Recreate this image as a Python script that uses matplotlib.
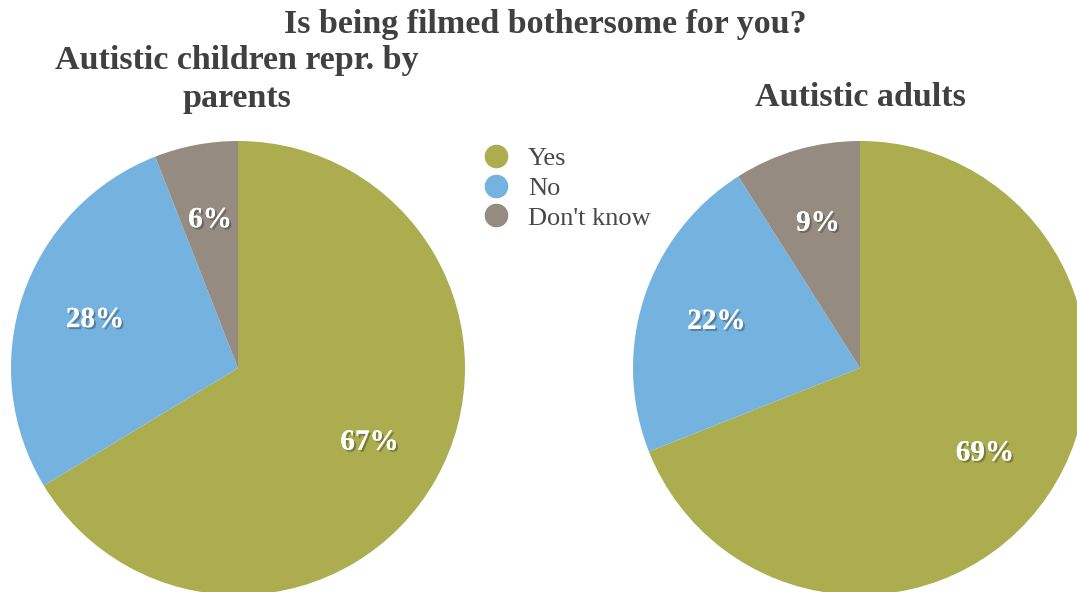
import matplotlib
matplotlib.use("Agg")
import matplotlib.pyplot as plt
import matplotlib.patheffects as pe
from matplotlib.lines import Line2D
import numpy as np

categories = ["Yes", "No", "Don't know"]
children_values = [67, 28, 6]
adults_values = [69, 22, 9]
colors = ["#ABAD4E", "#74B3E0", "#968B80"]

title = "Is being filmed bothersome for you?"
children_title = ["Autistic children repr. by", "parents"]
adults_title = "Autistic adults"

W, H = 1077, 592
fig = plt.figure(figsize=(W / 100, H / 100), dpi=100)
fig.patch.set_facecolor("white")

serif = ["Liberation Serif", "DejaVu Serif"]
text_color = "#404040"


def pie_axes(cx, cy, r):
    # cx, cy, r in pixels (y measured from the top)
    ax = fig.add_axes([(cx - r) / W, (H - cy - r) / H, 2 * r / W, 2 * r / H])
    return ax


def draw_pie(ax, values):
    wedges, _ = ax.pie(values, colors=colors, startangle=90, counterclock=False,
                       radius=1.0, wedgeprops=dict(linewidth=0))
    ax.set_xlim(-1, 1)
    ax.set_ylim(-1, 1)
    ax.axis("off")
    for w, v in zip(wedges, values):
        w.set_clip_on(False)
        ang = np.deg2rad((w.theta1 + w.theta2) / 2)
        ax.text(0.665 * np.cos(ang), 0.665 * np.sin(ang), f"{v}%",
                ha="center", va="center", color="white", fontsize=21,
                fontweight="bold", family=serif,
                path_effects=[pe.withSimplePatchShadow(offset=(1.5, -1.5),
                                                       shadow_rgbFace="#222222",
                                                       alpha=0.35),
                              pe.Normal()])


ax1 = pie_axes(238, 368, 227)
draw_pie(ax1, children_values)
ax2 = pie_axes(860, 368, 227)
draw_pie(ax2, adults_values)

title_kw = dict(ha="center", va="center", fontsize=24.5, fontweight="bold",
                color=text_color, family=serif)
fig.text(545 / W, 1 - 25 / H, title, **title_kw)
fig.text(237 / W, 1 - 60 / H, children_title[0], **title_kw)
fig.text(237 / W, 1 - 99 / H, children_title[1], **title_kw)
fig.text(860 / W, 1 - 98 / H, adults_title, **title_kw)

handles = [Line2D([0], [0], marker="o", linestyle="none", markersize=16,
                  markerfacecolor=c, markeredgecolor=c) for c in colors]
fig.legend(handles, categories, loc="upper left",
           bbox_to_anchor=(483 / W, 1 - 147 / H), frameon=False,
           prop={"family": serif, "size": 19}, labelcolor="#484848",
           handletextpad=0.7, labelspacing=0.23, borderpad=0,
           handlelength=1.0, borderaxespad=0)

fig.savefig("out.png", dpi=100, facecolor="white")
